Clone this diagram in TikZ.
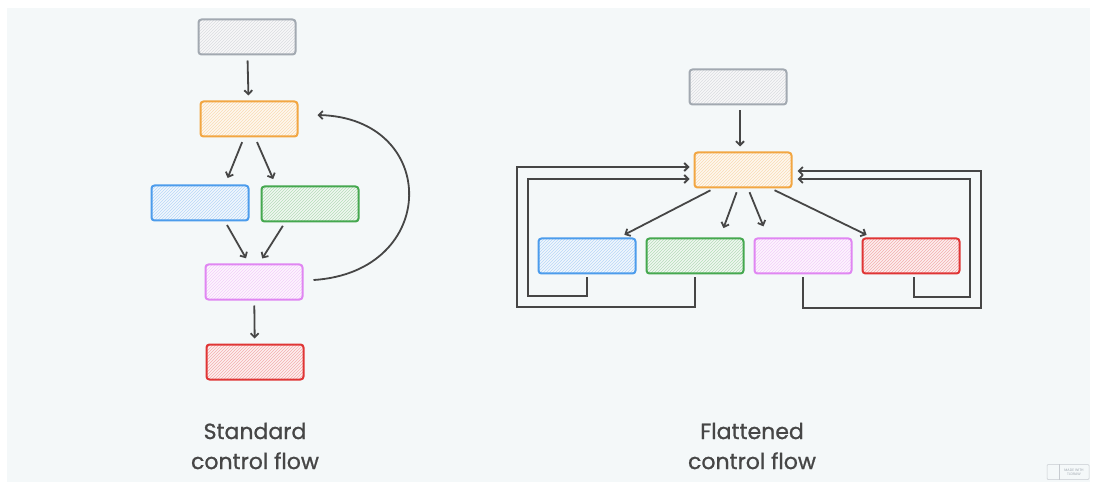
\documentclass[tikz,border=0pt]{standalone}
\usepackage{fontspec}
\setmainfont{Poppins}
\newfontfamily\ttlfont{Poppins}[FakeBold=0.9]
\usetikzlibrary{arrows.meta,patterns}
\definecolor{bgpanel}{HTML}{F4F8F9}
\definecolor{ink}{HTML}{464646}
\definecolor{cgray}{HTML}{A2A9B1}
\definecolor{corange}{HTML}{F2A642}
\definecolor{cblue}{HTML}{4C9CEC}
\definecolor{cgreen}{HTML}{45A84F}
\definecolor{cviolet}{HTML}{E086F2}
\definecolor{cred}{HTML}{E03535}
\tikzset{
  blk/.style={draw=#1, line width=2pt, rounded corners=3pt, minimum width=97pt, minimum height=35pt,
    preaction={fill=#1!8}, pattern=north east lines, pattern color=#1!40},
  arr/.style={draw=ink, line width=1.8pt, -{Straight Barb[length=4pt,width=8pt]}},
  ttl/.style={text=ink, font=\ttlfont\fontsize{22}{30}\selectfont, align=center}
}
\begin{document}
\begin{tikzpicture}[x=1pt,y=-1pt]
\useasboundingbox (0,0) rectangle (1097,486);
\fill[white] (0,0) rectangle (1097,486);
\fill[bgpanel] (7,8) rectangle (1090,482);
% standard control flow
\node[blk=cgray] (sgray) at (247,37){};
\node[blk=corange] (sorange) at (249,119){};
\node[blk=cblue] (sblue) at (200,203){};
\node[blk=cgreen] (sgreen) at (310,204){};
\node[blk=cviolet] (sviolet) at (254,282){};
\node[blk=cred] (sred) at (255,362){};
\draw[arr, shorten <=5pt, shorten >=5pt](sgray) -- (sorange);
\draw[arr, shorten <=5pt, shorten >=7pt]([xshift=-5pt]sorange.south) -- ([xshift=25pt]sblue.north);
\draw[arr, shorten <=5pt, shorten >=7pt]([xshift=6pt]sorange.south) -- ([xshift=-34pt]sgreen.north);
\draw[arr, shorten <=4pt, shorten >=6pt]([xshift=25pt]sblue.south) -- ([xshift=-5pt]sviolet.north);
\draw[arr, shorten <=4pt, shorten >=6pt]([xshift=-25pt]sgreen.south) -- ([xshift=5pt]sviolet.north);
\draw[arr, shorten <=5pt, shorten >=5pt](sviolet) -- (sred);
\draw[arr]([xshift=10pt,yshift=2pt]sviolet.east) .. controls (440,272) and (440,118) .. ([xshift=19pt,yshift=4pt]sorange.east);
\node[ttl] (stitle) at (255,446){Standard\\control flow};
% flattened control flow
\node[blk=cgray] (fgray) at (738,87){};
\node[blk=corange] (forange) at (743,170){};
\node[blk=cblue] (fblue) at (587,256){};
\node[blk=cgreen] (fgreen) at (695,256){};
\node[blk=cviolet] (fviolet) at (803,256){};
\node[blk=cred] (fred) at (911,256){};
\draw[arr, shorten <=5pt, shorten >=5pt]([xshift=2pt]fgray.south) -- ([xshift=-3pt]forange.north);
\draw[arr, shorten <=4pt, shorten >=6pt]([xshift=-29pt]forange.south) -- ([xshift=32pt]fblue.north);
\draw[arr, shorten <=4pt, shorten >=10pt]([xshift=-5pt]forange.south) -- ([xshift=25pt]fgreen.north);
\draw[arr, shorten <=4pt, shorten >=12pt]([xshift=5pt]forange.south) -- ([xshift=-35pt]fviolet.north);
\draw[arr, shorten <=4pt, shorten >=6pt]([xshift=28pt]forange.south) -- ([xshift=-39pt]fred.north);
\draw[arr]([yshift=-3pt]fblue.south) |- (528,296) |- ([xshift=-4pt,yshift=-9pt]forange.west);
\draw[arr]([yshift=-3pt]fgreen.south) |- (517,307) |- ([xshift=-4pt,yshift=3pt]forange.west);
\draw[arr]([yshift=-3pt]fviolet.south) |- (981,308) |- ([xshift=5pt,yshift=-1pt]forange.east);
\draw[arr]([xshift=3pt,yshift=-3pt]fred.south) |- (970,297) |- ([xshift=5pt,yshift=-9pt]forange.east);
\node[ttl] (ftitle) at (752,446){Flattened\\control flow};
% badge
\node[draw=cgray!60, line width=0.5pt, rounded corners=1pt, minimum width=42pt, minimum height=15pt] (badge) at (1068,472){};
\node[text=cgray, font=\fontsize{3.5}{4}\selectfont, align=center] (badgetxt) at (1074,472){MADE WITH\\TLDRAW};
\draw[cgray!60, line width=0.5pt]([xshift=12pt]badge.north west) -- ([xshift=12pt]badge.south west);
\end{tikzpicture}
\end{document}
